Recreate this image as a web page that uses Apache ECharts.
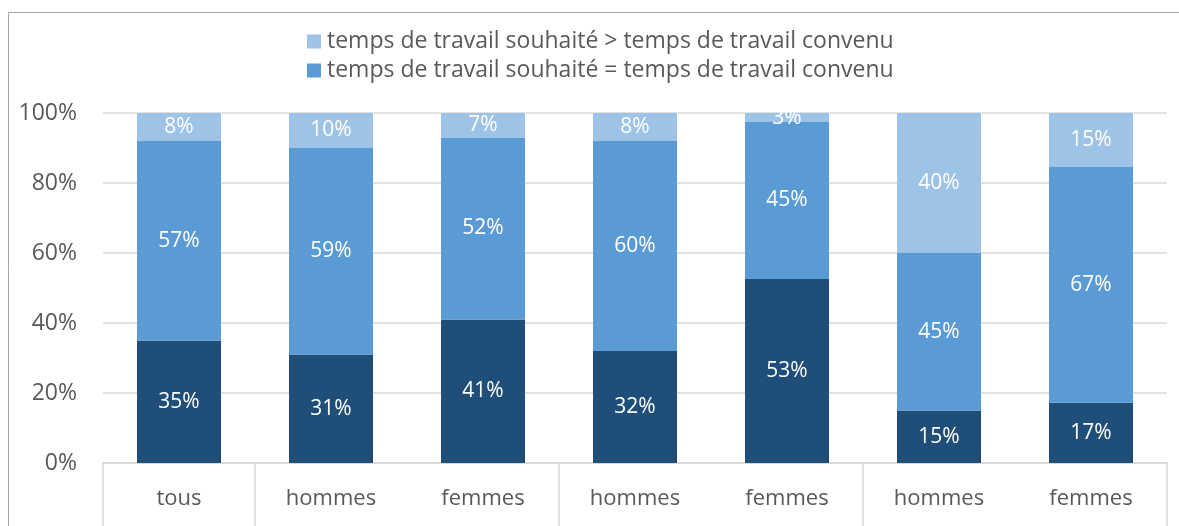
<!DOCTYPE html>
<html>
<head>
<meta charset="utf-8">
<script src="https://cdn.jsdelivr.net/npm/echarts@6/dist/echarts.min.js"></script>
<style>
html,body{margin:0;padding:0;background:#fff;}
#chart{width:1179px;height:526px;}
</style>
</head>
<body>
<div id="chart"></div>
<script>
const categories = ['tous', 'hommes', 'femmes', 'hommes', 'femmes', 'hommes', 'femmes'];
const groupStartIdx = [0, 1, 3, 5];
const seriesNames = [
  'temps de travail souhaité < temps de travail convenu',
  'temps de travail souhaité = temps de travail convenu',
  'temps de travail souhaité > temps de travail convenu'
];
const darkValues = [35, 31, 41, 32, 52.6, 15, 17.2];
const midValues = [57, 59, 52, 60, 44.8, 45, 67.4];
const lightValues = [8, 10, 7, 8, 2.6, 40, 15.4];
const yTicks = [0, 20, 40, 60, 80, 100];

const font = 'Open Sans';
const chart = echarts.init(document.getElementById('chart'), null, {renderer: 'canvas'});

function mk(name, data, color) {
  return {
    name: name, type: 'bar', stack: 'total', data: data, barWidth: 84,
    itemStyle: {color: color},
    label: {
      show: true, position: 'inside', color: '#fff', fontFamily: font, fontSize: 21,
      formatter: p => Math.round(p.value) + '%'
    }
  };
}

chart.setOption({
  animation: false,
  graphic: [{
    type: 'rect', shape: {x: 8.5, y: 12.5, width: 1400, height: 800},
    style: {fill: 'none', stroke: '#a6a6a6', lineWidth: 1}, silent: true, z: -10
  }],
  legend: {
    orient: 'vertical', left: 302, top: 25, itemGap: 6,
    itemWidth: 14, itemHeight: 14, icon: 'rect',
    data: [seriesNames[2], seriesNames[1]],
    textStyle: {fontFamily: font, fontSize: 23, color: '#595959', padding: [0, 0, 0, 1]}
  },
  grid: {left: 103, right: 12, top: 113, bottom: 63, containLabel: false},
  xAxis: {
    type: 'category', data: categories,
    axisLine: {show: true, lineStyle: {color: '#d9d9d9', width: 2}},
    axisTick: {show: true, length: 80, interval: (i) => groupStartIdx.indexOf(i) >= 0,
               lineStyle: {color: '#d9d9d9', width: 1.5}},
    axisLabel: {fontFamily: font, fontSize: 22, color: '#595959', margin: 25, interval: 0}
  },
  yAxis: {
    type: 'value', min: 0, max: 100, interval: 20,
    axisLabel: {fontFamily: font, fontSize: 23, color: '#595959', margin: 26,
                formatter: v => yTicks.indexOf(v) >= 0 ? v + '%' : ''},
    splitLine: {lineStyle: {color: '#d9d9d9', width: 1.5}},
    axisLine: {show: false}, axisTick: {show: false}
  },
  series: [
    mk(seriesNames[0], darkValues, '#1f4e79'),
    mk(seriesNames[1], midValues, '#5b9bd5'),
    mk(seriesNames[2], lightValues, '#9dc3e6')
  ]
});
</script>
</body>
</html>
